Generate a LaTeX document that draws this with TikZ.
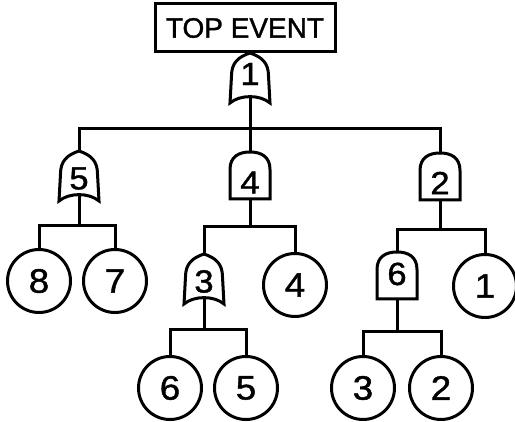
\documentclass[tikz,border=0pt]{standalone}
\usepackage{fontspec}
\setmainfont{Liberation Sans}
\newfontfamily\digitfont[FakeStretch=1.08,FakeBold=1.2]{Liberation Sans}
\newfontfamily\topfont[FakeBold=1.2]{Liberation Sans}
\usetikzlibrary{calc}
\newcommand{\orshape}[1]{%
  \draw[wire, shift={(#1.center)}] (0,-25) .. controls (12,-21) and (18.5,-15) .. (18.5,-2) -- (20,25)
    .. controls (10,16.5) and (-10,16.5) .. (-20,25) -- (-18.5,-2)
    .. controls (-18.5,-15) and (-12,-21) .. (0,-25) -- cycle;
  \coordinate (#1-out) at ($(#1.center)+(0,18.6)$);}
\newcommand{\andshape}[1]{%
  \draw[wire, shift={(#1.center)}] (-20,23.5) -- (-20,-6)
    .. controls (-20,-19) and (-11,-23.5) .. (0,-23.5)
    .. controls (11,-23.5) and (20,-19) .. (20,-6) -- (20,23.5) -- cycle;
  \coordinate (#1-out) at (#1.south);}
\begin{document}
\begin{tikzpicture}[x=1pt,y=-1pt,
  wire/.style={line width=3pt, line join=miter},
  orgate/.style={minimum width=40pt, minimum height=50pt, inner sep=0pt},
  andgate/.style={minimum width=40pt, minimum height=47pt, inner sep=0pt},
  digit/.style={inner sep=0pt, font=\digitfont\fontsize{32}{32}\selectfont},
  event/.style={circle, draw, line width=3pt, minimum size=63pt, inner sep=0pt, font=\digitfont\fontsize{34}{34}\selectfont},
  topbox/.style={draw, line width=3pt, minimum width=180pt, minimum height=48pt, inner sep=0pt, font=\topfont\fontsize{28}{28}\selectfont}]
  \fill[white] (0,0) rectangle (515,422);
  \useasboundingbox (0,0) rectangle (515,422);

  \node[topbox] (top) at (245,28) {TOP EVENT};

  % gates
  \node[orgate, label={[digit,yshift=4pt]center:1}] (g1) at (250,78) {};
  \node[orgate, label={[digit,yshift=-2.5pt]center:5}] (g5) at (79,176) {};
  \node[andgate, label={[digit,yshift=-7pt]center:4}] (g4) at (250,175.5) {};
  \node[andgate, label={[digit,yshift=-6.5pt]center:2}] (g2) at (440,176.5) {};
  \node[orgate, label={[digit,yshift=-2.5pt]center:3}] (g3) at (204,279) {};
  \node[andgate, label={[digit,yshift=1.5pt]center:6}] (g6) at (397,275.5) {};
  \orshape{g1}\orshape{g5}\orshape{g3}
  \andshape{g4}\andshape{g2}\andshape{g6}

  % basic events
  \node[event] (c8) at (39,281) {8};
  \node[event] (c7) at (115,281) {7};
  \node[event] (c4) at (295,285) {4};
  \node[event] (c1) at (485,286) {1};
  \node[event] (c6) at (170,388) {6};
  \node[event] (c5) at (246,388) {5};
  \node[event] (c3) at (363,388) {3};
  \node[event] (c2) at (441,388) {2};

  % bus junctions
  \coordinate (b1) at (250,129);
  \coordinate (b5) at (79,226);
  \coordinate (b4) at (250,227);
  \coordinate (b2) at (440,230);
  \coordinate (b3) at (204,330);
  \coordinate (b6) at (397,332);

  % connectors
  \draw[wire] (g1-out) -- (g4.north);
  \draw[wire] (g5.north) |- (b1) -| (g2.north);
  \draw[wire] (g5-out) -- (b5);
  \draw[wire] (c8.north) |- (b5) -| (c7.north);
  \draw[wire] (g4-out) -- (b4);
  \draw[wire] (g3.north) |- (b4) -| (c4.north);
  \draw[wire] (g2-out) -- (b2);
  \draw[wire] (g6.north) |- (b2) -| (c1.north);
  \draw[wire] (g3-out) -- (b3);
  \draw[wire] (c6.north) |- (b3) -| (c5.north);
  \draw[wire] (g6-out) -- (b6);
  \draw[wire] (c3.north) |- (b6) -| (c2.north);
\end{tikzpicture}
\end{document}
